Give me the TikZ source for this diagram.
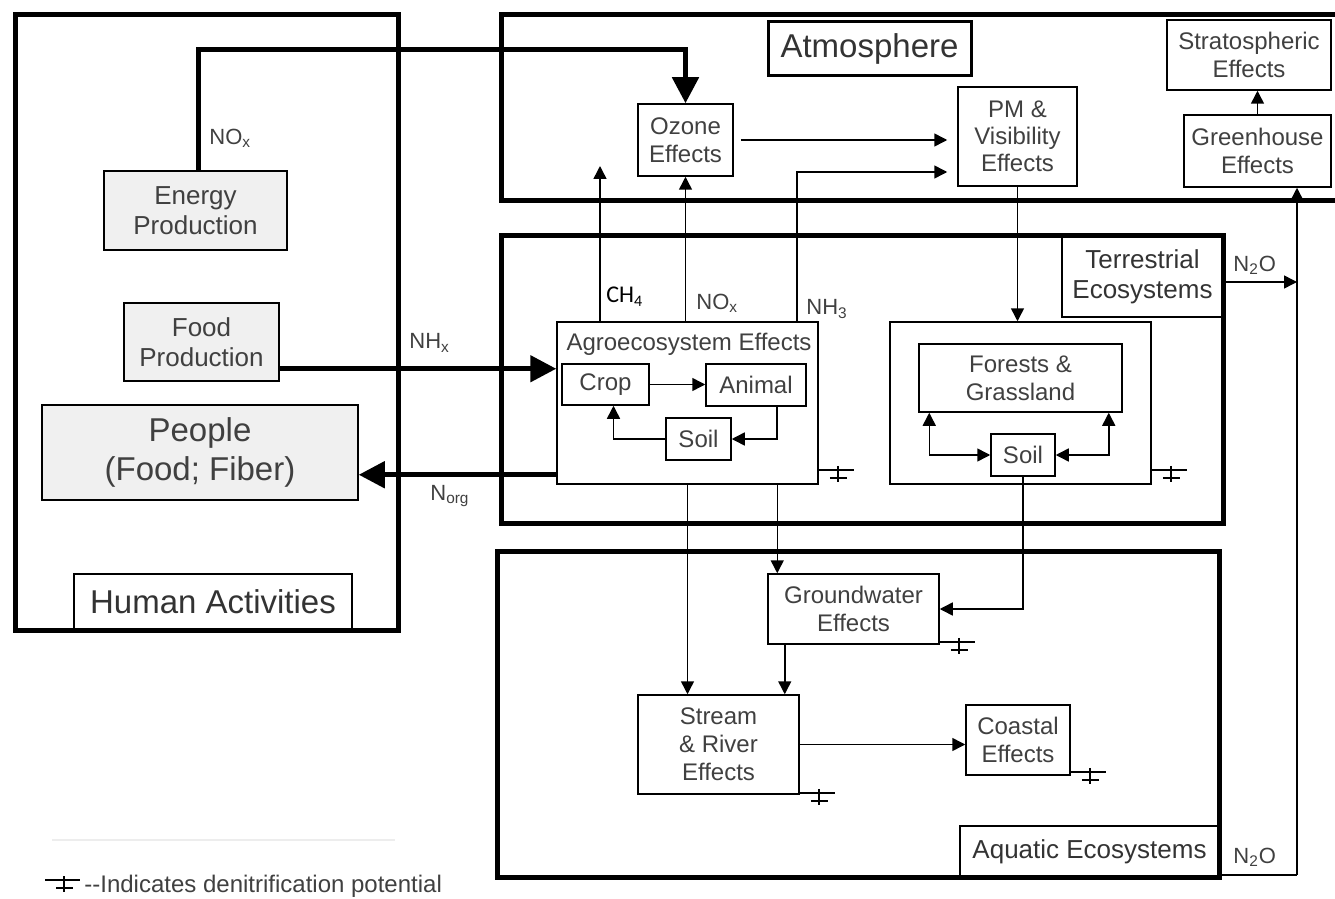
\documentclass[tikz,border=0pt]{standalone}
\usepackage{fontspec}
\setmainfont{Liberation Sans}
\newfontfamily\calfont{Carlito}
\usetikzlibrary{arrows.meta}

\tikzset{
  span/.style n args={4}{at={(#1/2+#3/2,#2/2+#4/2)},minimum width={(#3-#1)*0.5pt},minimum height={(#4-#2)*0.5pt}},
  box/.style={draw,line width=.75pt,inner sep=0pt,align=center,text=black!75,font=\fontsize{12}{14}\selectfont},
  humanbox/.style={box,fill=black!6,font=\fontsize{13}{15}\selectfont},
  frame/.style={draw,line width=2.5pt,inner sep=0pt},
  tagbox/.style={draw,line width=1.5pt,inner sep=0pt,align=center,text=black!80,font=\fontsize{13}{15}\selectfont},
  flow/.style={-{Triangle[length=6.5pt,width=6.5pt]},line width=.75pt},
  twoway/.style={{Triangle[length=6.5pt,width=6.5pt]}-{Triangle[length=6.5pt,width=6.5pt]},line width=.75pt},
  bigflow/.style={-{Triangle[length=13pt,width=13pt]},line width=2.5pt},
  chem/.style={anchor=west,inner sep=0pt,text=black!75,font=\fontsize{11}{13}\selectfont},
  denit/.pic={\draw[line width=.8pt] (0,0) -- (35,0) (19,-4) -- (19,12) (11,8) -- (28,8);}
}

\begin{document}
\begin{tikzpicture}[x=0.5pt,y=-0.5pt]
  \useasboundingbox (0,0) rectangle (1335,899);
  % frames
  \node[frame,span={15}{15}{398}{630}] (human) {};
  \node[frame,span={501}{15}{1360}{201}] (atm) {};
  \node[frame,span={501}{236}{1223}{523}] (terr) {};
  \node[frame,span={497}{551}{1219}{877}] (aqua) {};
  \node[tagbox,line width=1pt,span={74}{574}{352}{630},font=\fontsize{16.5}{19}\selectfont] (humantag) {Human Activities};
  \node[tagbox,span={768}{22}{971}{76},font=\fontsize{16.5}{19}\selectfont] (atmtag) {Atmosphere};
  \node[tagbox,line width=1.25pt,span={1062}{236}{1223}{317}] (terrtag) {Terrestrial\\Ecosystems};
  \node[tagbox,line width=1pt,span={960}{826}{1219}{877}] (aquatag) {Aquatic Ecosystems};
  % human activities
  \node[humanbox,span={104}{171}{287}{250}] (energy) {Energy\\Production};
  \node[humanbox,span={124}{303}{279}{381}] (food) {Food\\Production};
  \node[humanbox,span={42}{405}{358}{500},font=\fontsize{16.5}{19.5}\selectfont] (people) {People\\(Food; Fiber)};
  % atmosphere
  \node[box,span={638}{104}{733}{176}] (ozone) {Ozone\\Effects};
  \node[box,span={958}{87}{1077}{186},font=\fontsize{12}{13.5}\selectfont] (pm) {PM \&\\Visibility\\Effects};
  \node[box,span={1167}{20}{1331}{90}] (strato) {Stratospheric\\Effects};
  \node[box,span={1184}{115}{1331}{187}] (green) {Greenhouse\\Effects};
  % terrestrial
  \node[box,span={557}{322}{818}{484}] (agro) {};
  \node[box,draw=none,anchor=north] (agrotitle) at (689,332) {Agroecosystem Effects};
  \node[box,span={562}{364}{649}{405}] (crop) {Crop};
  \node[box,span={706}{364}{806}{406}] (animal) {Animal};
  \node[box,span={666}{418}{731}{460}] (agrosoil) {Soil};
  \node[box,span={890}{322}{1151}{484}] (forest) {};
  \node[box,span={919}{344}{1122}{412}] (grass) {Forests \&\\Grassland};
  \node[box,span={991}{434}{1055}{476}] (forestsoil) {Soil};
  % aquatic
  \node[box,span={768}{574}{939}{644}] (ground) {Groundwater\\Effects};
  \node[box,span={638}{695}{799}{794}] (stream) {Stream\\\& River\\Effects};
  \node[box,span={966}{705}{1070}{775}] (coast) {Coastal\\Effects};

  % thick fluxes
  \coordinate (energybend) at (198,50);
  \draw[bigflow] (energy.north -| energybend) -- (energybend) -| (ozone.north);
  \coordinate (nhxstart) at ([yshift=6.5pt]food.south east);
  \draw[bigflow] (nhxstart) -- (nhxstart -| agro.west);
  \coordinate (norgstart) at ([yshift=5pt]agro.south west);
  \draw[bigflow] (norgstart) -- (norgstart -| people.east);
  % emissions
  \coordinate (ch4tip) at (600,166);
  \draw[flow] (ch4tip |- agro.north) -- (ch4tip);
  \draw[flow] (agro.north -| ozone.south) -- (ozone.south);
  \coordinate (nh3bend) at (797,172);
  \draw[flow,shorten >=5pt] (nh3bend |- agro.north) -- (nh3bend) -- (nh3bend -| pm.west);
  \draw[flow,shorten <=3.5pt,shorten >=5pt] (ozone.east) -- (ozone.east -| pm.west);
  \draw[flow] (pm.south) -- (pm.south |- forest.north);
  \draw[flow] (green.north) -- (green.north |- strato.south);
  % inside agroecosystem
  \draw[flow] (crop.east) -- (crop.east -| animal.west);
  \draw[flow] ([xshift=10.5pt]animal.south) |- (agrosoil.east);
  \draw[flow] (agrosoil.west) -| ([xshift=4pt]crop.south);
  % inside forests
  \draw[twoway] ([xshift=5.5pt]grass.south west) |- (forestsoil.west);
  \draw[twoway] ([xshift=-7pt]grass.south east) |- (forestsoil.east);
  % to water
  \draw[flow] (forestsoil.south) |- (ground.east);
  \draw[flow] (agro.south) -- (agro.south |- stream.north);
  \draw[flow] ([xshift=5pt]ground.north west |- agro.south) -- ([xshift=5pt]ground.north west);
  \draw[flow] ([xshift=-7.5pt]stream.north east |- ground.south) -- ([xshift=-7.5pt]stream.north east);
  \draw[flow] (stream.east) -- (stream.east -| coast.west);
  % nitrous oxide
  \coordinate (n2obend) at (1297,875);
  \coordinate (n2omid) at (1297,282);
  \draw[line width=.75pt] (aqua.east |- n2obend) -- (n2obend);
  \draw[flow] (n2obend) -- (n2obend |- green.south);
  \draw[flow] (n2omid -| terr.east) -- (n2omid);

  % labels
  \node[chem] (noxenergy) at (209,138) {NO\textsubscript{x}};
  \node[chem] (nhx) at (409,343) {NH\textsubscript{x}};
  \node[chem] (norg) at (430,496) {N\textsubscript{org}};
  \node[chem,font=\calfont\fontsize{12}{14}\selectfont,text=black] (ch4) at (606,297) {CH\textsubscript{4}};
  \node[chem] (noxagro) at (696,303) {NO\textsubscript{x}};
  \node[chem] (nh3) at (806,309) {NH\textsubscript{3}};
  \node[chem] (n2oterr) at (1233,265) {N\textsubscript{2}O};
  \node[chem] (n2oaqua) at (1233,857) {N\textsubscript{2}O};

  % denitrification marks
  \pic at ([yshift=7.5pt]agro.south east) {denit};
  \pic at ([yshift=7.5pt]forest.south east) {denit};
  \pic at ([yshift=1.5pt]ground.south east) {denit};
  \pic at ([yshift=1pt]stream.south east) {denit};
  \pic at ([yshift=2pt]coast.south east) {denit};

  % legend
  \draw[black!7,line width=1pt] (52,840) -- (395,840);
  \pic at (45,880) {denit};
  \node[chem,font=\fontsize{12}{14}\selectfont] (legend) at (84,886) {-{}-Indicates denitrification potential};
\end{tikzpicture}
\end{document}
